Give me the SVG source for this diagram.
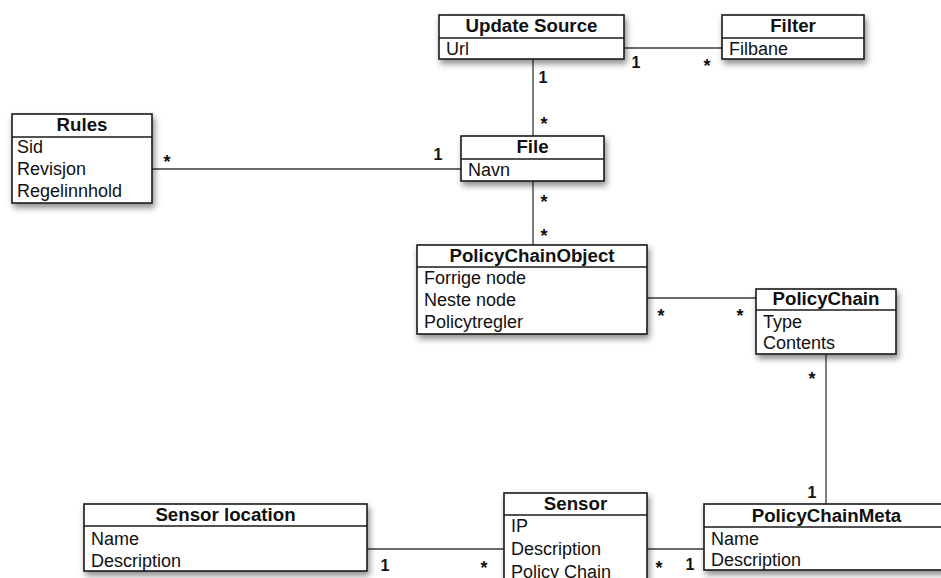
<svg xmlns="http://www.w3.org/2000/svg" width="941" height="578" viewBox="0 0 941 578">
  <defs>
    <filter id="shadow" x="-10%" y="-20%" width="130%" height="160%">
      <feDropShadow dx="2" dy="4" stdDeviation="3" flood-color="#000" flood-opacity="0.45"/>
    </filter>
    <style>
      .box { fill: #fff; stroke: #1a1a1a; stroke-width: 1.6; }
      .div { stroke: #1a1a1a; stroke-width: 1.4; }
      .title { font-family: "Liberation Sans", Arial, sans-serif; font-size: 18.7px; font-weight: bold; fill: #111; text-anchor: middle; }
      .attr { font-family: "Liberation Sans", Arial, sans-serif; font-size: 18px; fill: #111; }
      .conn line { stroke: #3a3a3a; stroke-width: 1.3; }
      .mult { font-family: "Liberation Sans", Arial, sans-serif; font-size: 16px; font-weight: bold; fill: #111; text-anchor: middle; }
      .star { font-family: "Liberation Sans", Arial, sans-serif; font-size: 18px; font-weight: bold; fill: #111; text-anchor: middle; }
    </style>
  </defs>
  <rect width="941" height="578" fill="#fff"/>

  <!-- associations -->
  <g id="connectors" class="conn">
    <line x1="624" y1="48" x2="722" y2="48"/>
    <line x1="533" y1="59" x2="533" y2="136"/>
    <line x1="152" y1="169" x2="461" y2="169"/>
    <line x1="533" y1="181" x2="533" y2="245"/>
    <line x1="647" y1="298" x2="756" y2="298"/>
    <line x1="826" y1="354" x2="826" y2="504"/>
    <line x1="367" y1="549" x2="504" y2="549"/>
    <line x1="647" y1="549" x2="704" y2="549"/>
  </g>

  <!-- multiplicities -->
  <g id="multiplicities">
    <text class="mult" x="543" y="83">1</text>
    <text class="star" x="544" y="130">*</text>
    <text class="mult" x="636" y="68">1</text>
    <text class="star" x="707" y="72">*</text>
    <text class="star" x="167" y="168">*</text>
    <text class="mult" x="438" y="160">1</text>
    <text class="star" x="544" y="208">*</text>
    <text class="star" x="544" y="242">*</text>
    <text class="star" x="661" y="322">*</text>
    <text class="star" x="740" y="322">*</text>
    <text class="star" x="812" y="385">*</text>
    <text class="mult" x="812" y="498">1</text>
    <text class="mult" x="385" y="571">1</text>
    <text class="star" x="484" y="574">*</text>
    <text class="star" x="659" y="574">*</text>
    <text class="mult" x="690" y="570">1</text>
  </g>

  <g id="update-source">
    <rect class="box" x="439" y="15" width="185" height="44" filter="url(#shadow)"/>
    <line class="div" x1="439" y1="38" x2="624" y2="38"/>
    <text class="title" x="531.5" y="32">Update Source</text>
    <text class="attr" x="446" y="55">Url</text>
  </g>

  <g id="filter">
    <rect class="box" x="722" y="15" width="142" height="44" filter="url(#shadow)"/>
    <line class="div" x1="722" y1="38" x2="864" y2="38"/>
    <text class="title" x="793" y="32">Filter</text>
    <text class="attr" x="729" y="55">Filbane</text>
  </g>

  <g id="rules">
    <rect class="box" x="12" y="114" width="140" height="89" filter="url(#shadow)"/>
    <line class="div" x1="12" y1="137" x2="152" y2="137"/>
    <text class="title" x="82" y="131">Rules</text>
    <text class="attr" x="17" y="153">Sid</text>
    <text class="attr" x="17" y="175">Revisjon</text>
    <text class="attr" x="17" y="197">Regelinnhold</text>
  </g>

  <g id="file">
    <rect class="box" x="461" y="136" width="143" height="45" filter="url(#shadow)"/>
    <line class="div" x1="461" y1="159" x2="604" y2="159"/>
    <text class="title" x="532.5" y="153">File</text>
    <text class="attr" x="468" y="176">Navn</text>
  </g>

  <g id="policy-chain-object">
    <rect class="box" x="417" y="245" width="230" height="89" filter="url(#shadow)"/>
    <line class="div" x1="417" y1="267" x2="647" y2="267"/>
    <text class="title" x="532" y="262">PolicyChainObject</text>
    <text class="attr" x="424" y="284">Forrige node</text>
    <text class="attr" x="424" y="306">Neste node</text>
    <text class="attr" x="424" y="328">Policytregler</text>
  </g>

  <g id="policy-chain">
    <rect class="box" x="756" y="289" width="140" height="65" filter="url(#shadow)"/>
    <line class="div" x1="756" y1="310" x2="896" y2="310"/>
    <text class="title" x="826" y="305">PolicyChain</text>
    <text class="attr" x="763" y="328">Type</text>
    <text class="attr" x="763" y="349">Contents</text>
  </g>

  <g id="sensor-location">
    <rect class="box" x="84" y="504" width="283" height="67" filter="url(#shadow)"/>
    <line class="div" x1="84" y1="526" x2="367" y2="526"/>
    <text class="title" x="225.5" y="521">Sensor location</text>
    <text class="attr" x="91" y="545">Name</text>
    <text class="attr" x="91" y="567">Description</text>
  </g>

  <g id="sensor">
    <rect class="box" x="504" y="493" width="143" height="100" filter="url(#shadow)"/>
    <line class="div" x1="504" y1="515" x2="647" y2="515"/>
    <text class="title" x="575.5" y="510">Sensor</text>
    <text class="attr" x="511" y="532">IP</text>
    <text class="attr" x="511" y="555">Description</text>
    <text class="attr" x="511" y="578">Policy Chain</text>
  </g>

  <g id="policy-chain-meta">
    <rect class="box" x="704" y="504" width="245" height="66" filter="url(#shadow)"/>
    <line class="div" x1="704" y1="527" x2="949" y2="527"/>
    <text class="title" x="826.5" y="522">PolicyChainMeta</text>
    <text class="attr" x="711" y="545">Name</text>
    <text class="attr" x="711" y="566">Description</text>
  </g>
</svg>
